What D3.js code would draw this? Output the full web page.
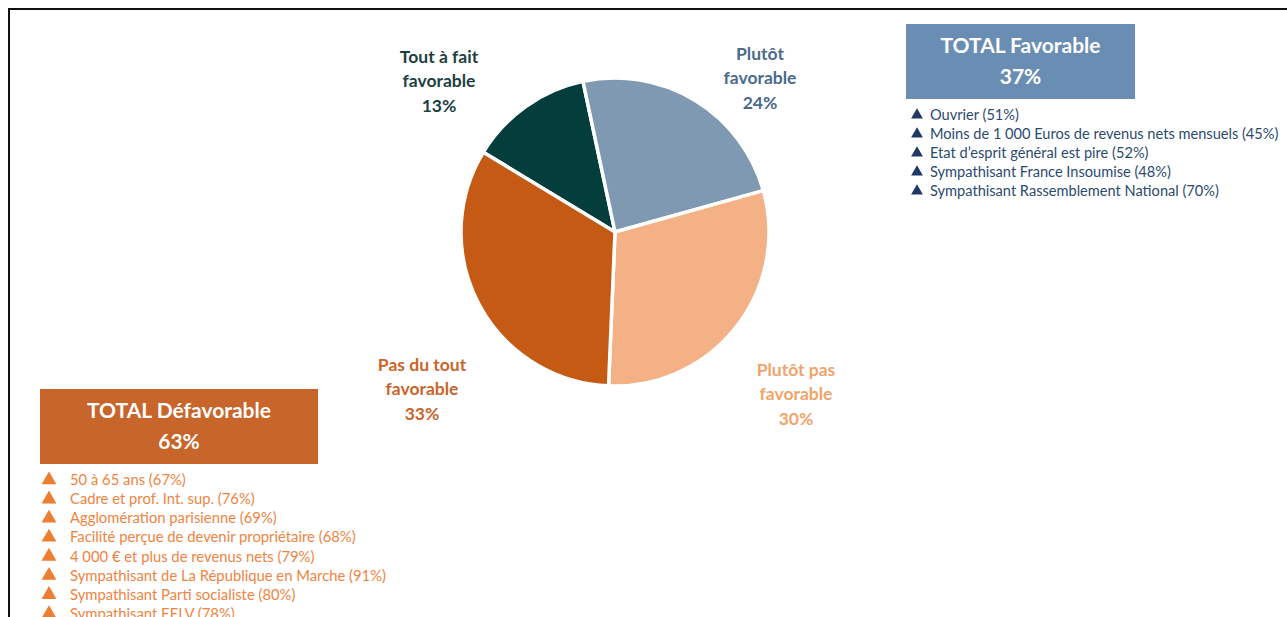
<!DOCTYPE html>
<html>
<head>
<meta charset="utf-8">
<script src="https://cdn.jsdelivr.net/npm/d3@7"></script>
<style>
  body { margin: 0; background: #fff; }
  svg { display: block; font-family: Lato, "Open Sans", sans-serif; }
</style>
</head>
<body>
<svg id="chart"></svg>
<script>
// données
var categories = ["Tout à fait favorable", "Plutôt favorable", "Plutôt pas favorable", "Pas du tout favorable"];
var labelLines = [["Tout à fait", "favorable"], ["Plutôt", "favorable"], ["Plutôt pas", "favorable"], ["Pas du tout", "favorable"]];
var values = [13, 24, 30, 33];
var totalFavorable = 37;
var totalDefavorable = 63;
var favorableItems = ["Ouvrier (51%)", "Moins de 1 000 Euros de revenus nets mensuels (45%)", "Etat d’esprit général est pire (52%)", "Sympathisant France Insoumise (48%)", "Sympathisant Rassemblement National (70%)"];
var defavorableItems = ["50 à 65 ans (67%)", "Cadre et prof. Int. sup. (76%)", "Agglomération parisienne (69%)", "Facilité perçue de devenir propriétaire (68%)", "4 000 € et plus de revenus nets (79%)", "Sympathisant de La République en Marche (91%)", "Sympathisant Parti socialiste (80%)", "Sympathisant EELV (78%)"];

var width = 1287, height = 617;
var sliceColors = ["#033d3c", "#7f99b2", "#f3b185", "#c45a13"];
var labelColors = ["#1d3f42", "#4a6a8e", "#f0a46c", "#c8652a"];
// position du libellé (centre de la 2e ligne) par rapport au centre du camembert
var labelOffsets = [[-176, -151], [145, -154], [181, 162], [-193, 157]];

var svg = d3.select("#chart").attr("width", width).attr("height", height);

// cadre
svg.append("path")
  .attr("d", "M9," + height + " V9 H" + width)
  .attr("fill", "none").attr("stroke", "#111").attr("stroke-width", 2);

// camembert
var cx = 615, cy = 232, r = 154;
var pie = d3.pie().sort(null).startAngle(-58.8 * Math.PI / 180).endAngle(301.2 * Math.PI / 180);
var arc = d3.arc().innerRadius(0).outerRadius(r);
var g = svg.append("g").attr("transform", "translate(" + cx + "," + cy + ")");
g.selectAll("path.slice")
  .data(pie(values))
  .enter().append("path")
  .attr("class", "slice")
  .attr("d", arc)
  .attr("fill", function (d, i) { return sliceColors[i]; })
  .attr("stroke", "#fff")
  .attr("stroke-width", 3.5)
  .attr("stroke-linejoin", "round");

// libellés
var lbl = g.selectAll("text.lbl")
  .data(pie(values))
  .enter().append("text")
  .attr("class", "lbl")
  .attr("text-anchor", "middle")
  .attr("font-weight", "bold")
  .attr("font-size", 17.5)
  .attr("fill", function (d, i) { return labelColors[i]; });
lbl.each(function (d, i) {
  var t = d3.select(this);
  var lines = labelLines[i].concat([values[i] + "%"]);
  lines.forEach(function (s, k) {
    t.append("tspan")
      .attr("x", labelOffsets[i][0])
      .attr("y", labelOffsets[i][1] + (k - 1) * 24.5 + 6)
      .text(s);
  });
});

// encadrés TOTAL
function totalBox(x, y, w, h, fill, title, value) {
  svg.append("rect").attr("x", x).attr("y", y).attr("width", w).attr("height", h).attr("fill", fill);
  svg.append("text").attr("x", x + w / 2).attr("y", y + 29).attr("text-anchor", "middle")
    .attr("fill", "#fff").attr("font-weight", "bold").attr("font-size", 21).text(title);
  svg.append("text").attr("x", x + w / 2).attr("y", y + 60).attr("text-anchor", "middle")
    .attr("fill", "#fff").attr("font-weight", "bold").attr("font-size", 21).text(value + "%");
}
totalBox(906, 24, 229, 75, "#6a8db3", "TOTAL Favorable", totalFavorable);
totalBox(40, 389, 278, 75, "#c8652a", "TOTAL Défavorable", totalDefavorable);

// listes
function itemList(items, x, y0, step, triColor, textColor, triSize, gap, fs) {
  var grp = svg.append("g");
  var row = grp.selectAll("g").data(items).enter().append("g")
    .attr("transform", function (d, i) { return "translate(" + x + "," + (y0 + i * step) + ")"; });
  row.append("path")
    .attr("d", d3.symbol().type(d3.symbolTriangle).size(triSize))
    .attr("transform", "translate(0,0)")
    .attr("fill", triColor);
  row.append("text")
    .attr("x", gap).attr("y", 0).attr("dy", "0.35em")
    .attr("font-size", fs)
    .attr("fill", textColor)
    .text(function (d) { return d; });
}
itemList(favorableItems, 917, 115, 19, "#1f3864", "#2b4a70", 60, 13, 14.6);
itemList(defavorableItems, 49, 480, 19.1, "#ed7d31", "#ef8442", 95, 21, 14.8);
</script>
</body>
</html>
